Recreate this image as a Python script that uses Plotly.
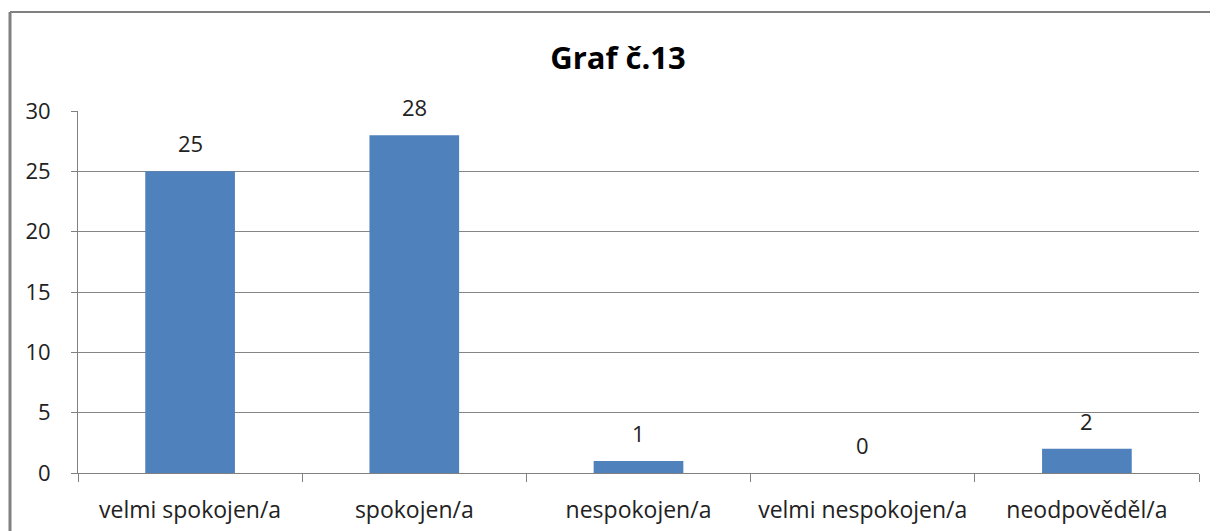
import plotly.graph_objects as go

categories = ["velmi spokojen/a", "spokojen/a", "nespokojen/a", "velmi nespokojen/a", "neodpověděl/a"]
values = [25, 28, 1, 0, 2]
title_text = "Graf č.13"

OFF = 8  # page body margin
W, H = 1218 - OFF, 531 - OFF
L, R, T, B = 78 - OFF, 1199 - OFF, 111 - OFF, 473 - OFF
pw, ph = R - L, B - T
FONT = "Open Sans, Liberation Sans"

fig = go.Figure()
fig.add_trace(go.Bar(x=categories, y=values, marker=dict(color="#4F81BD", line=dict(width=0)), width=0.4))

for c, v in zip(categories, values):
    fig.add_annotation(x=c, y=v, text=str(v), showarrow=False, yanchor="bottom", yshift=11,
                       font=dict(family=FONT, size=22, color="#222"))

# border of chart area
bx = (10 - OFF - L) / pw
by = (B - (12 - OFF)) / ph
fig.add_shape(type="line", xref="paper", yref="paper", x0=bx, x1=bx, y0=-0.3, y1=by,
              line=dict(color="#808080", width=3))
fig.add_shape(type="line", xref="paper", yref="paper", x0=bx, x1=1.1, y0=by, y1=by,
              line=dict(color="#808080", width=2))

fig.update_layout(
    width=W, height=H,
    margin=dict(l=L, r=W - R, t=T, b=H - B, autoexpand=False),
    paper_bgcolor="white", plot_bgcolor="white",
    showlegend=False,
    title=dict(text="<b>" + title_text + "</b>", x=(618 - OFF) / W, xref="container", xanchor="center",
               y=1 - (58 - OFF) / H, yanchor="middle",
               font=dict(family=FONT, size=31, color="black")),
    font=dict(family=FONT, size=22, color="#222"),
)
fig.update_xaxes(type="category", tickson="boundaries", ticks="outside", ticklen=8, tickcolor="#808080",
                 showline=True, linecolor="#808080", linewidth=1, showgrid=False, automargin=False,
                 tickfont=dict(size=23), ticklabelstandoff=16, range=[-0.5, 4.5])
fig.update_yaxes(range=[0, 30], dtick=5, ticks="outside", ticklen=6, tickcolor="#808080",
                 showline=True, linecolor="#808080", linewidth=1, showgrid=True, gridcolor="#868686",
                 gridwidth=1, zeroline=False, automargin=False, ticklabelstandoff=16)

fig.write_html("out.html")
